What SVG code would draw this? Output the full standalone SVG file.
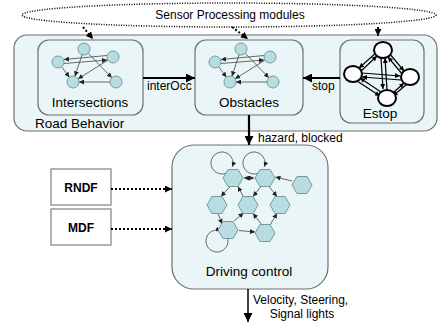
<svg xmlns="http://www.w3.org/2000/svg" xmlns:xlink="http://www.w3.org/1999/xlink" width="440" height="325" viewBox="0 0 440 325">
<style>
.box{fill:#e9f5f6;stroke:#707070;stroke-width:1.2}
.lbl{font-family:"Liberation Sans",Arial,sans-serif;font-size:13.5px;fill:#000}
.sm{font-family:"Liberation Sans",Arial,sans-serif;font-size:12px;fill:#000}
.bold{font-family:"Liberation Sans",Arial,sans-serif;font-size:12px;font-weight:bold;fill:#000}
.nd{fill:#b8dde1;stroke:#6f8f95;stroke-width:0.9}
.e{stroke:#444;stroke-width:0.8;fill:none;marker-end:url(#as)}
.thick{stroke:#000;stroke-width:2.2;fill:none;marker-end:url(#ah)}
.dot{stroke:#000;stroke-width:2;stroke-dasharray:2 2;fill:none;marker-end:url(#ad)}
.es{fill:#fff;stroke:#000;stroke-width:2}
.ee{stroke:#000;stroke-width:1.2;fill:none;marker-end:url(#ae)}
</style>
<defs>
<marker id="as" markerUnits="userSpaceOnUse" markerWidth="5" markerHeight="5" refX="5" refY="2.5" orient="auto"><path d="M0,0 L5,2.5 L0,5 z" fill="#222"/></marker>
<marker id="ah" markerUnits="userSpaceOnUse" markerWidth="9" markerHeight="9" refX="9" refY="4.5" orient="auto"><path d="M0,0 L9,4.5 L0,9 z" fill="#000"/></marker>
<marker id="ad" markerUnits="userSpaceOnUse" markerWidth="7" markerHeight="7" refX="7" refY="3.5" orient="auto"><path d="M0,0 L7,3.5 L0,7 z" fill="#000"/></marker>
<marker id="ae" markerUnits="userSpaceOnUse" markerWidth="5" markerHeight="5" refX="5" refY="2.5" orient="auto"><path d="M0,0 L5,2.5 L0,5 z" fill="#000"/></marker>
<polygon id="hex" points="-10,0 -5,-8.5 5,-8.5 10,0 5,8.5 -5,8.5" class="nd"/>
<g id="mini">
<line class="e" x1="107" y1="55.5" x2="64" y2="59.5"/>
<line class="e" x1="64" y1="63.5" x2="107" y2="60"/>
<line class="e" x1="82.1" y1="54.7" x2="74.9" y2="76.3"/>
<line class="e" x1="88.2" y1="53.3" x2="111.8" y2="77.7"/>
<line class="e" x1="107.9" y1="60.2" x2="78.1" y2="78.8"/>
<line class="e" x1="61.6" y1="66.8" x2="69.4" y2="77.2"/>
<line class="e" x1="110" y1="82" x2="79" y2="82"/>
<circle class="nd" cx="84" cy="49" r="6"/>
<circle class="nd" cx="58" cy="62" r="6"/>
<circle class="nd" cx="113" cy="57" r="6"/>
<circle class="nd" cx="73" cy="82" r="6"/>
<circle class="nd" cx="116" cy="82" r="6"/>
</g>
</defs>
<rect width="440" height="325" fill="#fff"/>

<g id="sensor">
<ellipse cx="229" cy="15" rx="207" ry="12" fill="none" stroke="#000" stroke-width="1.5" stroke-dasharray="1 1.5"/>
<text class="sm" x="230" y="19" text-anchor="middle">Sensor Processing modules</text>
</g>

<g id="roadBehavior">
<rect class="box" x="14" y="35" width="423" height="96" rx="13"/>
<text class="lbl" x="35" y="128">Road Behavior</text>
</g>

<g id="intersections">
<rect class="box" x="38" y="40" width="105" height="75" rx="11"/>
<use xlink:href="#mini" href="#mini"/>
<text class="lbl" x="90" y="107" text-anchor="middle">Intersections</text>
</g>

<g id="obstacles">
<rect class="box" x="195" y="40" width="108" height="75" rx="11"/>
<use xlink:href="#mini" href="#mini" x="157"/>
<text class="lbl" x="249" y="107" text-anchor="middle">Obstacles</text>
</g>

<g id="estop">
<rect class="box" x="340" y="40" width="84" height="83" rx="11"/>
<line class="ee" x1="377" y1="52" x2="359" y2="68"/>
<line class="ee" x1="360" y1="72" x2="377" y2="56"/>
<line class="ee" x1="389" y1="53" x2="404" y2="71"/>
<line class="ee" x1="403" y1="75" x2="388" y2="57"/>
<line class="ee" x1="357" y1="81" x2="380" y2="96"/>
<line class="ee" x1="381" y1="92" x2="360" y2="78"/>
<line class="ee" x1="407" y1="84" x2="393" y2="96"/>
<line class="ee" x1="394" y1="92" x2="404" y2="83"/>
<line class="ee" x1="381" y1="58" x2="383" y2="89"/>
<line class="ee" x1="387" y1="90" x2="385" y2="58"/>
<line class="ee" x1="362" y1="73" x2="400" y2="76"/>
<line class="ee" x1="401" y1="80" x2="362" y2="77"/>
<ellipse class="es" cx="383" cy="50" rx="9" ry="8"/>
<ellipse class="es" cx="353" cy="74" rx="9" ry="8"/>
<ellipse class="es" cx="410" cy="77" rx="9" ry="8"/>
<ellipse class="es" cx="387" cy="98" rx="9" ry="8"/>
<text class="lbl" x="380" y="118" text-anchor="middle">Estop</text>
</g>

<g id="drivingControl">
<rect class="box" x="172" y="145" width="156" height="144" rx="22"/>
<line class="e" x1="245" y1="178" x2="254" y2="178"/>
<line class="e" x1="253" y1="178" x2="244" y2="178"/>
<line class="e" x1="292" y1="181" x2="275.5" y2="177"/>
<line class="e" x1="230" y1="186.5" x2="221" y2="196.5"/>
<line class="e" x1="218" y1="213.5" x2="222" y2="224"/>
<line class="e" x1="234" y1="221" x2="243.5" y2="213"/>
<line class="e" x1="239" y1="230.5" x2="255" y2="232"/>
<line class="e" x1="270" y1="225" x2="277" y2="213.5"/>
<line class="e" x1="244" y1="198" x2="238" y2="186.5"/>
<line class="e" x1="269" y1="186.5" x2="277" y2="196.5"/>
<line class="e" x1="261" y1="186.5" x2="253" y2="196.5"/>
<line class="e" x1="262" y1="225" x2="253" y2="213.5"/>
<path class="e" d="M225.8,173.3 A11,11 0 1 1 232.3,166.8"/>
<path class="e" d="M257.8,173.3 A11,11 0 1 1 264.3,166.8"/>
<path class="e" d="M227.3,237.2 A11,11 0 1 1 220.8,230.7"/>
<use xlink:href="#hex" href="#hex" x="233" y="178"/>
<use xlink:href="#hex" href="#hex" x="265" y="178"/>
<use xlink:href="#hex" href="#hex" x="302" y="185"/>
<use xlink:href="#hex" href="#hex" x="217" y="205"/>
<use xlink:href="#hex" href="#hex" x="248" y="205"/>
<use xlink:href="#hex" href="#hex" x="280" y="205"/>
<use xlink:href="#hex" href="#hex" x="228" y="230"/>
<use xlink:href="#hex" href="#hex" x="265" y="233"/>
<text class="lbl" x="249" y="276" text-anchor="middle">Driving control</text>
</g>

<g id="rndf">
<rect x="51" y="169" width="60" height="36" fill="#fff" stroke="#808080" stroke-width="1.2"/>
<text class="bold" x="81" y="192" text-anchor="middle">RNDF</text>
</g>
<g id="mdf">
<rect x="51" y="209" width="60" height="36" fill="#fff" stroke="#808080" stroke-width="1.2"/>
<text class="bold" x="81" y="232" text-anchor="middle">MDF</text>
</g>

<g id="connectors">
<line class="dot" x1="83" y1="27" x2="93" y2="39"/>
<line class="dot" x1="232" y1="27" x2="248" y2="39"/>
<line class="dot" x1="378" y1="27" x2="378" y2="36"/>
<line class="thick" x1="143" y1="78" x2="195" y2="78"/>
<text class="sm" x="147" y="90">interOcc</text>
<line class="thick" x1="340" y1="78" x2="303" y2="78"/>
<text class="sm" x="312" y="90">stop</text>
<line class="thick" x1="249" y1="115" x2="249" y2="145"/>
<text class="sm" x="258" y="142">hazard, blocked</text>
<line class="dot" x1="111" y1="189" x2="172" y2="189"/>
<line class="dot" x1="111" y1="229" x2="172" y2="229"/>
<line stroke="#000" stroke-width="1.5" marker-end="url(#ah)" x1="248" y1="289" x2="248" y2="322"/>
<text class="sm" x="253" y="304">Velocity, Steering,</text>
<text class="sm" x="302" y="318" text-anchor="middle">Signal lights</text>
</g>
</svg>
